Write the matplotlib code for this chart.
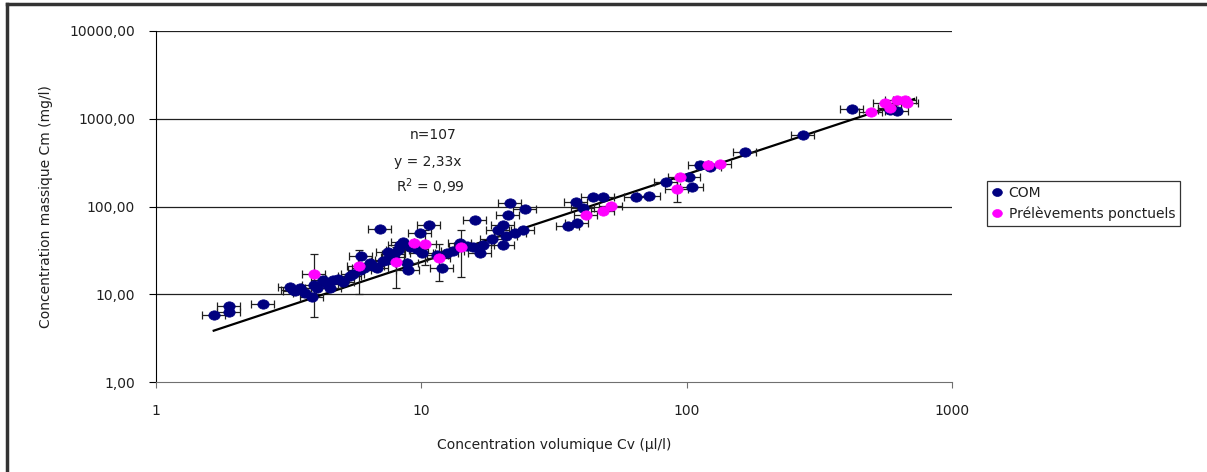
import numpy as np
import matplotlib
matplotlib.use("Agg")
import matplotlib.pyplot as plt
from matplotlib.lines import Line2D
from matplotlib.path import Path
from matplotlib.transforms import Affine2D
from matplotlib.ticker import FixedLocator, FixedFormatter, NullLocator

# --- data (Cv in ul/l, Cm in mg/l) ---
com_cv = [1.65, 1.88, 1.88, 2.53, 3.20, 3.28, 3.49, 3.64, 3.87, 4.04,
          4.26, 4.65, 4.53, 5.07, 5.39, 5.87, 5.93, 6.41, 6.81, 6.98,
          7.43, 7.49, 7.82, 8.31, 8.53, 8.83, 8.91, 9.07, 9.89, 10.1,
          10.7, 11.5, 12.0, 12.5, 14.0, 15.7, 15.9, 16.6, 17.1, 20.3,
          19.5, 20.3, 21.2, 21.6, 24.6, 22.5, 24.2, 35.7, 38.6, 38.3,
          40.7, 44.4, 48.4, 64.5, 72.1, 83.6, 102, 105, 112, 122,
          166, 275, 420, 584, 621,
          3.35, 3.95, 4.40, 4.85, 5.55, 6.10, 6.60, 7.20, 7.90, 8.20,
          9.60, 13.2, 14.8, 18.5, 20.8]
com_cm = [5.81, 7.36, 6.28, 7.75, 12.1, 11.2, 11.8, 10.3, 9.31, 11.8,
          14.6, 14.6, 11.8, 13.8, 16.2, 18.9, 27.3, 22.7, 19.9, 55.6,
          24.6, 30.4, 26.6, 36.5, 39.5, 22.7, 18.9, 34.6, 50.0, 29.6,
          61.7, 28.1, 19.9, 29.6, 38.5, 34.6, 70.3, 29.6, 36.5, 36.5,
          54.1, 61.7, 80.2, 110, 93.9, 50.0, 54.1, 60.1, 65.0, 113,
          96.4, 129, 129, 129, 132, 191, 218, 167, 298, 283,
          419, 655, 1297, 1263, 1231,
          10.9, 12.6, 13.0, 14.9, 17.0, 20.0, 21.0, 24.0, 28.5, 32.0,
          33.0, 31.0, 35.5, 43.0, 46.0]

pp_cv = [3.94, 5.82, 8.03, 9.38, 10.3, 11.7, 14.1, 41.8, 48.4, 51.9,
         94.4, 92.0, 120, 134, 496, 560, 584, 621, 666, 677]
pp_cm = [17.0, 21.0, 23.4, 38.5, 37.5, 25.9, 34.6, 80.2, 89.1, 102,
         218, 159, 298, 306, 1199, 1518, 1331, 1642, 1642, 1518]
pp_cm_err = [11.5, 11.0, 11.5, 0, 16.0, 11.7, 19.0, 0, 0, 0,
             0, 45.0, 0, 0, 0, 0, 0, 0, 0, 0]

cv_rel_err = 0.10          # relative error on Cv
slope = 2.33               # y = 2,33x
fit_range = [1.65, 720]

ytick_vals = [1, 10, 100, 1000, 10000]
ytick_labels = ["1,00", "10,00", "100,00", "1000,00", "10000,00"]
xtick_vals = [1, 10, 100, 1000]
xtick_labels = ["1", "10", "100", "1000"]

plt.rcParams["font.family"] = "DejaVu Sans"
plt.rcParams["font.size"] = 10

# slightly flattened circle, like the Excel markers
ellipse = Path.unit_circle().transformed(Affine2D().scale(1.0, 0.82))

W, H = 1207, 472
fig = plt.figure(figsize=(W / 100, H / 100), dpi=100)
ax = fig.add_axes([156 / W, 1 - 382 / H, (952 - 156) / W, (382 - 31) / H])

ax.set_xscale("log")
ax.set_yscale("log")
ax.set_xlim(1, 1000)
ax.set_ylim(1, 10000)

for yv in ytick_vals[1:]:
    ax.axhline(yv, color="#202020", lw=0.9, zorder=1)

# regression line
xf = np.array(fit_range)
ax.plot(xf, slope * xf, color="black", lw=1.6, zorder=2)

com_cv = np.array(com_cv)
com_cm = np.array(com_cm)
pp_cv = np.array(pp_cv)
pp_cm = np.array(pp_cm)

ax.errorbar(com_cv, com_cm, xerr=cv_rel_err * com_cv, fmt="none",
            ecolor="#202020", elinewidth=0.9, capsize=3, capthick=0.9, zorder=3)
ax.errorbar(pp_cv, pp_cm, xerr=cv_rel_err * pp_cv, yerr=pp_cm_err, fmt="none",
            ecolor="#202020", elinewidth=0.9, capsize=3, capthick=0.9, zorder=3)

ax.plot(com_cv, com_cm, ls="none", marker=ellipse, color="#000080", ms=8.2,
        mec="#000080", mew=0.5, zorder=4, label="COM")
ax.plot(pp_cv, pp_cm, ls="none", marker=ellipse, color="#FF00FF", ms=8.2,
        mec="#FF00FF", mew=0.5, zorder=5, label="Prélèvements ponctuels")

ax.xaxis.set_major_locator(FixedLocator(xtick_vals))
ax.xaxis.set_major_formatter(FixedFormatter(xtick_labels))
ax.xaxis.set_minor_locator(NullLocator())
ax.yaxis.set_major_locator(FixedLocator(ytick_vals))
ax.yaxis.set_major_formatter(FixedFormatter(ytick_labels))
ax.yaxis.set_minor_locator(NullLocator())

ax.spines["top"].set_visible(False)
ax.spines["right"].set_visible(False)
ax.spines["bottom"].set_color("#707070")
ax.spines["left"].set_color("black")
ax.tick_params(axis="x", direction="out", length=4, color="#707070",
               pad=12, labelcolor="#202020")
ax.tick_params(axis="y", direction="out", length=5, color="black",
               pad=10, labelcolor="#202020")

ax.set_xlabel("Concentration volumique Cv (µl/l)", color="#202020", labelpad=14)
ax.set_ylabel("Concentration massique Cm (mg/l)", color="#202020", labelpad=12)

fig.text(433 / W, 1 - 135 / H, "n=107", ha="center", va="center", color="#202020")
fig.text(428 / W, 1 - 162 / H, "y = 2,33x", ha="center", va="center", color="#202020")
fig.text(430 / W, 1 - 187 / H, "R$^2$ = 0,99", ha="center", va="center", color="#202020")

leg = fig.legend(loc="upper left", bbox_to_anchor=(987 / W, 1 - 181 / H),
                 frameon=True, fancybox=False, edgecolor="black",
                 handlelength=0.8, handletextpad=0.4, borderpad=0.35,
                 labelspacing=0.5, borderaxespad=0, markerscale=0.85)
leg.get_frame().set_linewidth(0.9)
for t in leg.get_texts():
    t.set_color("#202020")

# frame of the chart area (only top and left visible in the reference)
fig.add_artist(Line2D([7 / W, 1], [1 - 4 / H, 1 - 4 / H], color="#333333", lw=2.5))
fig.add_artist(Line2D([7 / W, 7 / W], [0, 1 - 4 / H], color="#333333", lw=2.5))

fig.savefig("out.png", dpi=100)
